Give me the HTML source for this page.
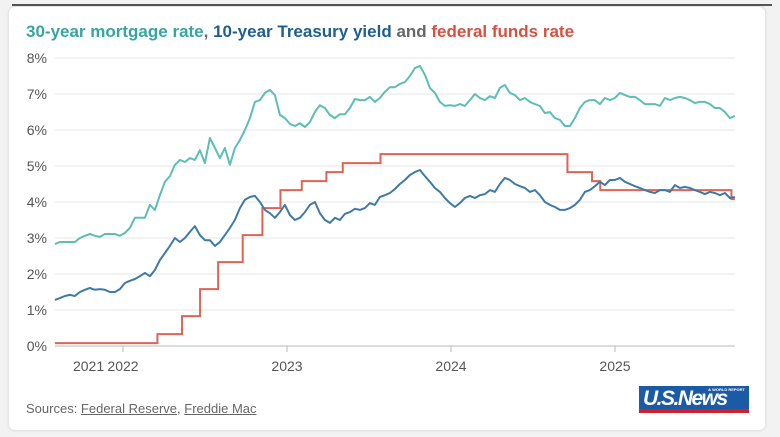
<!DOCTYPE html>
<html><head><meta charset="utf-8">
<style>
body{margin:0;width:780px;height:437px;background:#f2f2f2;font-family:"Liberation Sans",sans-serif;overflow:hidden;position:relative}
#topline{position:absolute;left:12px;top:4px;width:760px;height:2px;background:#555}
#card{position:absolute;left:9px;top:7px;width:756px;height:423px;background:#fff;border-radius:6px;box-shadow:0 0 3px rgba(0,0,0,.15)}
#title{position:absolute;left:26px;top:22px;font-size:17px;font-weight:bold;color:#666;white-space:nowrap}
#src{position:absolute;left:26px;top:401px;font-size:13px;color:#666}
#src a{color:#666;text-decoration:underline}
#logo{position:absolute;left:639px;top:386px;width:110px;height:27px;background:#1b5ba5}
#logo .n{position:absolute;left:4px;top:1px;color:#fff;font-weight:bold;font-style:italic;font-size:21px;letter-spacing:-1.5px}
#logo .r{position:absolute;right:4px;top:1px;color:#fff;font-size:4px;font-weight:bold}
#logo .s{position:absolute;left:0;bottom:0;width:110px;height:4px;background:#d0202e}
svg{position:absolute;left:0;top:0}
</style></head><body>
<div id="topline"></div>
<div id="card"></div>
<div id="title"><span style="color:#36a6a0">30-year mortgage rate</span>, <span style="color:#1e5f8e">10-year Treasury yield</span> and <span style="color:#d6513f">federal funds rate</span></div>
<svg id="chart" width="780" height="437"></svg>
<div id="src">Sources: <a>Federal Reserve</a>, <a>Freddie Mac</a></div>
<div id="logo"><span class="n">U.S.News</span><span class="r">&amp; WORLD REPORT</span><div class="s"></div></div>
<script>
const yTicks=[0,1,2,3,4,5,6,7,8];
const yearLabels=["2021","2022","2023","2024","2025"];
const yearLabelPos=[2021.79,2022,2023,2024,2025];
const startYear=2021.585;
const stepYears=5/164;
const mortgage=[2.83,2.89,2.89,2.89,2.89,3.0,3.06,3.11,3.06,3.03,3.11,3.11,3.11,3.06,3.14,3.28,3.56,3.56,3.56,3.92,3.78,4.19,4.56,4.72,5.03,5.17,5.11,5.22,5.17,5.44,5.08,5.78,5.5,5.22,5.5,5.03,5.5,5.72,6.0,6.33,6.78,6.83,7.03,7.11,6.97,6.42,6.33,6.17,6.11,6.19,6.08,6.22,6.5,6.69,6.61,6.42,6.33,6.44,6.44,6.61,6.86,6.83,6.83,6.92,6.78,6.89,7.06,7.19,7.19,7.28,7.33,7.5,7.72,7.78,7.53,7.17,7.03,6.78,6.67,6.69,6.67,6.72,6.67,6.83,7.0,6.89,6.83,6.94,6.89,7.17,7.25,7.03,6.97,6.83,6.89,6.78,6.72,6.67,6.47,6.5,6.33,6.28,6.11,6.11,6.33,6.61,6.78,6.83,6.83,6.72,6.89,6.83,6.89,7.03,6.97,6.92,6.92,6.83,6.72,6.72,6.72,6.67,6.89,6.83,6.89,6.92,6.89,6.83,6.75,6.78,6.78,6.72,6.61,6.61,6.5,6.33,6.39];
const treasury=[1.28,1.33,1.39,1.42,1.39,1.5,1.56,1.61,1.56,1.58,1.56,1.5,1.5,1.58,1.75,1.81,1.86,1.94,2.03,1.94,2.11,2.39,2.58,2.78,3.0,2.89,3.0,3.17,3.33,3.08,2.94,2.94,2.78,2.89,3.08,3.28,3.5,3.83,4.06,4.14,4.17,4.0,3.78,3.69,3.56,3.72,3.92,3.64,3.5,3.56,3.72,3.92,4.0,3.69,3.5,3.42,3.56,3.5,3.67,3.72,3.81,3.78,3.83,3.97,3.92,4.14,4.19,4.25,4.36,4.5,4.61,4.75,4.83,4.89,4.72,4.56,4.39,4.28,4.11,3.97,3.86,3.97,4.11,4.17,4.11,4.19,4.22,4.33,4.28,4.5,4.67,4.61,4.5,4.44,4.39,4.28,4.33,4.19,4.0,3.92,3.86,3.78,3.78,3.83,3.92,4.06,4.28,4.33,4.44,4.56,4.47,4.61,4.61,4.67,4.56,4.5,4.44,4.39,4.33,4.28,4.25,4.33,4.33,4.28,4.47,4.39,4.42,4.39,4.33,4.28,4.22,4.28,4.25,4.19,4.25,4.11,4.14];
const fedDates=[2021.585,2022.21,2022.36,2022.47,2022.58,2022.73,2022.85,2022.96,2023.09,2023.24,2023.34,2023.57,2024.71,2024.86,2024.91,2025.71];
const fedRates=[0.08,0.33,0.83,1.58,2.33,3.08,3.83,4.33,4.58,4.83,5.08,5.33,4.83,4.58,4.33,4.08];
const endYear=startYear+136*stepYears;

const NS="http://www.w3.org/2000/svg";
const svg=document.getElementById('chart');
const xS=t=>123+(t-2022)*164;
const yS=v=>346-v*36;
function mk(tag,attrs){const e=document.createElementNS(NS,tag);for(const k in attrs)e.setAttribute(k,attrs[k]);svg.appendChild(e);return e;}
yTicks.forEach(v=>{
  const g=mk('line',{x1:55,x2:735,y1:yS(v),y2:yS(v),stroke:v===0?'#bbb':'#e6e6e6','stroke-width':1});
  
  
  const t=mk('text',{x:47,y:yS(v)+5,'text-anchor':'end','font-size':14,fill:'#555','font-family':'Liberation Sans, sans-serif'});
  t.textContent=v+'%';
  
  
});
yearLabels.forEach((l,i)=>{
  const x=xS(yearLabelPos[i]);
  if(i>0){const tk=mk('line',{x1:x,x2:x,y1:346,y2:352,stroke:'#bbb'});
  
  }
  const t=mk('text',{x:x,y:371,'text-anchor':'middle','font-size':14,fill:'#555','font-family':'Liberation Sans, sans-serif'});
  t.textContent=l;
  
  
});
function series(vals,color,name){
  const d=vals.map((v,i)=>(i?'L':'M')+xS(startYear+i*stepYears).toFixed(1)+','+yS(v).toFixed(1)).join('');
  const p=mk('path',{d:d,fill:'none',stroke:color,'stroke-width':2,'stroke-linejoin':'round'});
  
  
}
let d='';
fedDates.forEach((t,i)=>{
  const x=xS(t),y=yS(fedRates[i]);
  if(i===0)d+='M'+x+','+y;else d+='L'+x+','+yS(fedRates[i-1])+'L'+x+','+y;
});
d+='L'+xS(endYear)+','+yS(fedRates[fedRates.length-1]);
const fp=mk('path',{d:d,fill:'none',stroke:'#dd6456','stroke-width':2});


series(treasury,'#3f7aa5','treasury-yield-line');
series(mortgage,'#5dbdb7','mortgage-rate-line');
</script>
</body></html>
